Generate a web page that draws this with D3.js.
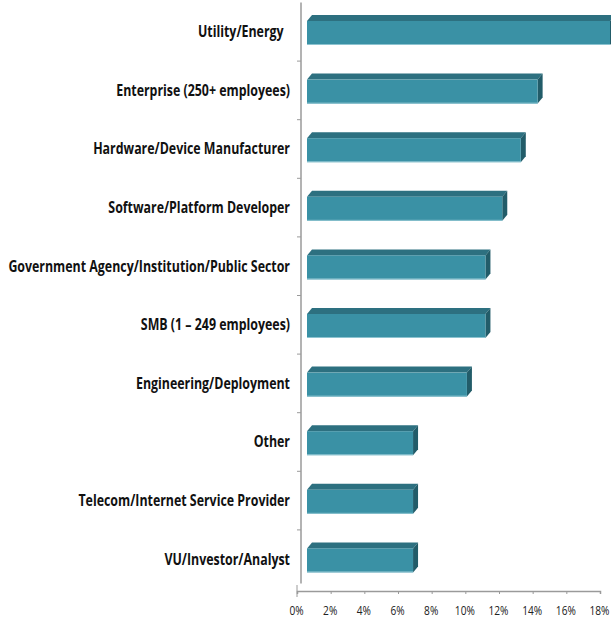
<!DOCTYPE html>
<html>
<head>
<meta charset="utf-8">
<script src="https://cdn.jsdelivr.net/npm/d3@7"></script>
<style>
  body { margin: 0; background: #ffffff; }
  svg { display: block; }
  .catLabel { font-family: 'Open Sans', 'DejaVu Sans', sans-serif; font-weight: bold; font-size: 15.5px; fill: #111111; }
  .tickLabel { font-family: 'Open Sans', 'DejaVu Sans', sans-serif; font-size: 13px; fill: #222222; }
</style>
</head>
<body>
<div id="chart"></div>
<script>
// Categories, top to bottom (the first one carries a trailing space in the original)
var categories = [
  'Utility/Energy\u00a0\u00a0',
  'Enterprise (250+ employees)',
  'Hardware/Device Manufacturer',
  'Software/Platform Developer',
  'Government Agency/Institution/Public Sector',
  'SMB (1 \u2013 249 employees)',
  'Engineering/Deployment',
  'Other',
  'Telecom/Internet Service Provider',
  'VU/Investor/Analyst'
]

// Share of respondents (%)
var values = [18.0, 13.7, 12.7, 11.6, 10.6, 10.6, 9.5, 6.3, 6.3, 6.3]

// Value axis ticks
var tickValues = [0, 2, 4, 6, 8, 10, 12, 14, 16, 18]

// Layout variables
var chartWidth = 611
var chartHeight = 622
var depthX = 5 // 3D depth offset to the right
var depthY = 6 // 3D depth offset upwards
var barHeight = 24
var labelRight = 290
var longestLabelWidth = 282 // the long government label spans this much

var svg = d3.select('#chart').append('svg')
  .attr('width', chartWidth)
  .attr('height', chartHeight)

// X scale sits on the front edge of the floor
var xScale = d3.scaleLinear()
  .domain([0, 18])
  .range([297, 600])

// Y bands on the back wall
var yScale = d3.scaleBand()
  .domain(d3.range(categories.length))
  .range([2.5, 588.5])

var axisColor = '#9a9a9a'

// Back wall vertical line
svg.append('line')
  .attr('x1', xScale(0) + depthX - 1).attr('x2', xScale(0) + depthX - 1)
  .attr('y1', yScale.range()[0]).attr('y2', yScale.range()[1] - 5)
  .style('stroke', axisColor).style('stroke-width', 1.5)

// Category tick marks
svg.selectAll('.catTick')
  .data(d3.range(1, categories.length))
  .enter().append('line')
  .attr('class', 'catTick')
  .attr('x1', xScale(0)).attr('x2', xScale(0) + depthX - 1)
  .attr('y1', function (d) { return yScale(d) })
  .attr('y2', function (d) { return yScale(d) })
  .style('stroke', axisColor).style('stroke-width', 1)

// Floor front edge (value axis)
var xAxis = d3.axisBottom(xScale)
  .tickValues(tickValues)
  .tickSize(3)
  .tickFormat(function (d) { return d + '%' })

var axisG = svg.append('g')
  .attr('transform', 'translate(0,591)')
  .call(xAxis)

axisG.select('.domain')
  .style('stroke', axisColor).style('stroke-width', 1.5)
axisG.selectAll('.tick line')
  .style('stroke', axisColor)
axisG.selectAll('.tick text')
  .attr('class', 'tickLabel')
  .attr('y', 0)
  .attr('dy', '0.32em')
  .attr('transform', 'translate(-1,20) scale(0.78,1)')

// Little corner tick at the floor's left end
svg.append('line')
  .attr('x1', xScale(0)).attr('x2', xScale(0))
  .attr('y1', 585).attr('y2', 597)
  .style('stroke', axisColor).style('stroke-width', 1)

// Category labels, squeezed sideways to look like the narrow original face
var labels = svg.selectAll('.catLabel')
  .data(categories)
  .enter().append('text')
  .attr('class', 'catLabel')
  .attr('x', 0)
  .attr('y', 0)
  .attr('dy', '0.35em')
  .attr('text-anchor', 'end')
  .text(function (d) { return d })

var maxWidth = d3.max(labels.nodes(), function (n) { return n.getComputedTextLength() })
var squeeze = longestLabelWidth / maxWidth

labels.attr('transform', function (d, i) {
  return 'translate(' + labelRight + ',' + (yScale(i) + yScale.bandwidth() / 2) + ') scale(' + squeeze + ',1)'
})

// Bars drawn as oblique 3D boxes
var bars = svg.selectAll('.bar')
  .data(values)
  .enter().append('g')
  .attr('class', 'bar')

function frontTop (i) { return yScale(i) + 18.5 }
function frontLeft () { return xScale(0) + 2 * depthX }
function frontRight (d) { return xScale(d) + 2 * depthX }

// Top face
bars.append('path')
  .attr('d', function (d, i) {
    var y = frontTop(i)
    var x0 = frontLeft()
    var x1 = frontRight(d)
    return 'M' + x0 + ',' + y + 'L' + (x0 + depthX) + ',' + (y - depthY) +
      'L' + (x1 + depthX) + ',' + (y - depthY) + 'L' + x1 + ',' + y + 'Z'
  })
  .style('fill', '#2d7080')

// Right side face
bars.append('path')
  .attr('d', function (d, i) {
    var y = frontTop(i)
    var x1 = frontRight(d)
    return 'M' + x1 + ',' + y + 'L' + (x1 + depthX) + ',' + (y - depthY) +
      'L' + (x1 + depthX) + ',' + (y + barHeight - depthY) + 'L' + x1 + ',' + (y + barHeight) + 'Z'
  })
  .style('fill', '#225c69')

// Front face
bars.append('rect')
  .attr('x', frontLeft())
  .attr('y', function (d, i) { return frontTop(i) })
  .attr('width', function (d) { return frontRight(d) - frontLeft() })
  .attr('height', barHeight)
  .style('fill', '#3a91a5')

// Light lower edge of the front face
bars.append('line')
  .attr('x1', frontLeft())
  .attr('x2', function (d) { return frontRight(d) })
  .attr('y1', function (d, i) { return frontTop(i) + barHeight - 0.5 })
  .attr('y2', function (d, i) { return frontTop(i) + barHeight - 0.5 })
  .style('stroke', '#8cc3d0').style('stroke-width', 1)
</script>
</body>
</html>
